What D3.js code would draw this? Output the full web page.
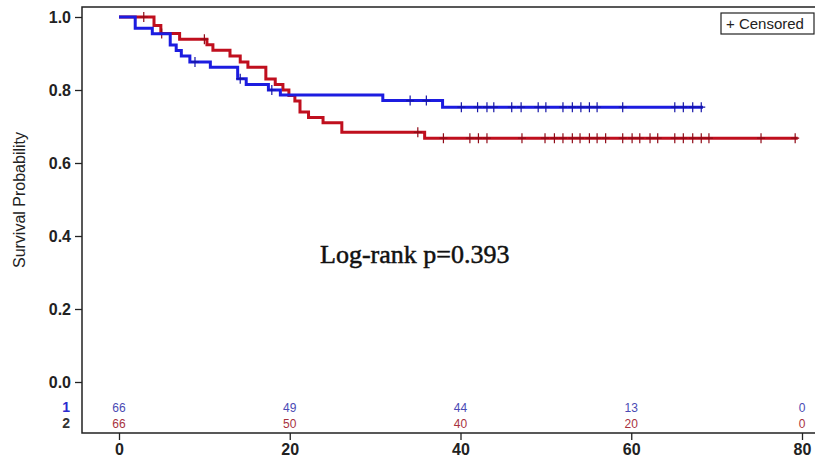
<!DOCTYPE html>
<html>
<head>
<meta charset="utf-8">
<script src="https://cdn.jsdelivr.net/npm/d3@7"></script>
<style>
  body { margin: 0; background: #fff; }
  svg { display: block; font-family: Arial, "Liberation Sans", sans-serif; }
</style>
</head>
<body>
<div id="vis"></div>
<script>
'use strict'

// group 1 (blue): step times and survival after each step
const blueTimes = [0, 1.9, 3.9, 6.0, 6.7, 7.3, 8.3, 10.7, 13.9, 14.9, 17.5, 18.9, 30.9, 37.9];
const blueSurv  = [1, 0.969, 0.954, 0.923, 0.908, 0.893, 0.877, 0.862, 0.831, 0.815, 0.800, 0.786, 0.771, 0.753];
const blueEnd = 68.4;
const blueCensored = [8.9, 14.2, 17.9, 34.1, 36.0, 40.1, 42.0, 43.1, 43.9, 46.0, 47.1, 49.1, 50.0,
  52.0, 53.1, 54.1, 55.1, 56.0, 59.0, 65.1, 66.1, 67.2, 68.2];

// group 2 (red)
const redTimes = [0, 4.1, 4.9, 7.1, 10.3, 11.0, 13.0, 14.2, 15.1, 17.2, 18.3, 19.2, 19.9, 20.6, 21.2, 22.2, 23.9, 26.1, 35.8];
const redSurv  = [1, 0.977, 0.955, 0.939, 0.924, 0.909, 0.893, 0.877, 0.862, 0.830, 0.815, 0.800, 0.785, 0.770, 0.740, 0.725, 0.710, 0.684, 0.668];
const redEnd = 79.5;
const redCensored = [2.9, 5.0, 10.0, 35.0, 38.0, 41.1, 42.1, 43.1, 47.2, 49.9, 51.0, 52.0, 53.1, 54.0,
  55.1, 56.0, 57.0, 59.0, 60.1, 61.0, 62.2, 63.1, 65.1, 66.1, 67.2, 68.2, 69.1, 75.2, 79.2];

// numbers at risk
const riskTimes = [0, 20, 40, 60, 80];
const riskBlue = [66, 49, 44, 13, 0];
const riskRed  = [66, 50, 40, 20, 0];

const xTicks = [0, 20, 40, 60, 80];
const yTicks = [0, 0.2, 0.4, 0.6, 0.8, 1.0];

const options = {
  width: 815,
  height: 460,
  blue: "#1c1ce0",
  red: "#c00f1e",
  blueText: "#4a4ab4",
  redText: "#a8323e"
};

const svg = d3.select('#vis').append('svg')
  .attr('width', options.width)
  .attr('height', options.height);

const x = d3.scaleLinear().domain([0, 80]).range([119, 802]);
const y = d3.scaleLinear().domain([0, 1]).range([382, 17]);

const frameLeft = 82, frameTop = 7, frameBottom = 433;

// frame
svg.append('path')
  .attr('d', `M${options.width},${frameTop}H${frameLeft}V${frameBottom}H${options.width}`)
  .attr('fill', 'none')
  .attr('stroke', '#222')
  .attr('stroke-width', 1.5);

// y axis
const yAxis = svg.append('g')
  .attr('transform', `translate(${frameLeft},0)`)
  .call(d3.axisLeft(y).tickValues(yTicks).tickFormat(d3.format('.1f')).tickSize(7).tickPadding(4));
yAxis.select('.domain').remove();
yAxis.selectAll('line').attr('stroke', '#222').attr('stroke-width', 1.3);
yAxis.selectAll('text').attr('font-size', 16).attr('font-weight', 'bold').attr('fill', '#222')
  .attr('font-family', 'Arial, "Liberation Sans", sans-serif');

// x axis
const xAxis = svg.append('g')
  .attr('transform', `translate(0,${frameBottom})`)
  .call(d3.axisBottom(x).tickValues(xTicks).tickSize(7).tickPadding(4));
xAxis.select('.domain').remove();
xAxis.selectAll('line').attr('stroke', '#222').attr('stroke-width', 1.3);
xAxis.selectAll('text').attr('font-size', 16).attr('font-weight', 'bold').attr('fill', '#222')
  .attr('font-family', 'Arial, "Liberation Sans", sans-serif');

// axis title
svg.append('text')
  .attr('transform', `translate(25,200) rotate(-90)`)
  .attr('text-anchor', 'middle')
  .attr('font-size', 16)
  .attr('fill', '#222')
  .text('Survival Probability');

// curves
const line = d3.line().x(d => x(d[0])).y(d => y(d[1])).curve(d3.curveStepAfter);

function survAt(times, surv, t) {
  let s = surv[0];
  for (let i = 0; i < times.length; i++) if (times[i] <= t) s = surv[i];
  return s;
}

function drawCurve(times, surv, end, censored, color) {
  const pts = times.map((t, i) => [t, surv[i]]);
  pts.push([end, surv[surv.length - 1]]);
  svg.append('path')
    .datum(pts)
    .attr('fill', 'none')
    .attr('stroke', color)
    .attr('stroke-width', 3)
    .attr('d', line);

  svg.append('g').selectAll('path')
    .data(censored)
    .join('path')
    .attr('d', t => {
      const cx = x(t), cy = y(survAt(times, surv, t));
      return `M${cx},${cy - 5}V${cy + 5}M${cx - 4},${cy}H${cx + 4}`;
    })
    .attr('stroke', d3.color(color).darker(0.8))
    .attr('stroke-width', 1.2);
}

drawCurve(redTimes, redSurv, redEnd, redCensored, options.red);
drawCurve(blueTimes, blueSurv, blueEnd, blueCensored, options.blue);

// numbers at risk
const riskRows = [
  { label: '1', values: riskBlue, color: options.blueText, labelColor: '#2a2ad0', yPos: 412 },
  { label: '2', values: riskRed, color: options.redText, labelColor: '#333', yPos: 428 }
];

riskRows.forEach(r => {
  svg.append('text')
    .attr('x', 70).attr('y', r.yPos)
    .attr('text-anchor', 'end')
    .attr('font-size', 14).attr('font-weight', 'bold')
    .attr('fill', r.labelColor)
    .text(r.label);
  svg.append('g').selectAll('text')
    .data(riskTimes)
    .join('text')
    .attr('x', d => x(d))
    .attr('y', r.yPos)
    .attr('text-anchor', 'middle')
    .attr('font-size', 12)
    .attr('fill', r.color)
    .text((d, i) => r.values[i]);
});

// legend
const legend = svg.append('g').attr('transform', 'translate(721,13)');
legend.append('rect')
  .attr('width', 93).attr('height', 21)
  .attr('fill', '#fff').attr('stroke', '#222').attr('stroke-width', 1.2);
legend.append('text')
  .attr('x', 5).attr('y', 16)
  .attr('font-size', 15).attr('fill', '#222')
  .text('+ Censored');

// log-rank annotation
svg.append('text')
  .attr('x', 320).attr('y', 263)
  .attr('font-family', '"Liberation Serif", "DejaVu Serif", serif')
  .attr('font-size', 26)
  .attr('fill', '#111')
  .attr('stroke', '#111')
  .attr('stroke-width', 0.5)
  .text('Log-rank p=0.393');
</script>
</body>
</html>
